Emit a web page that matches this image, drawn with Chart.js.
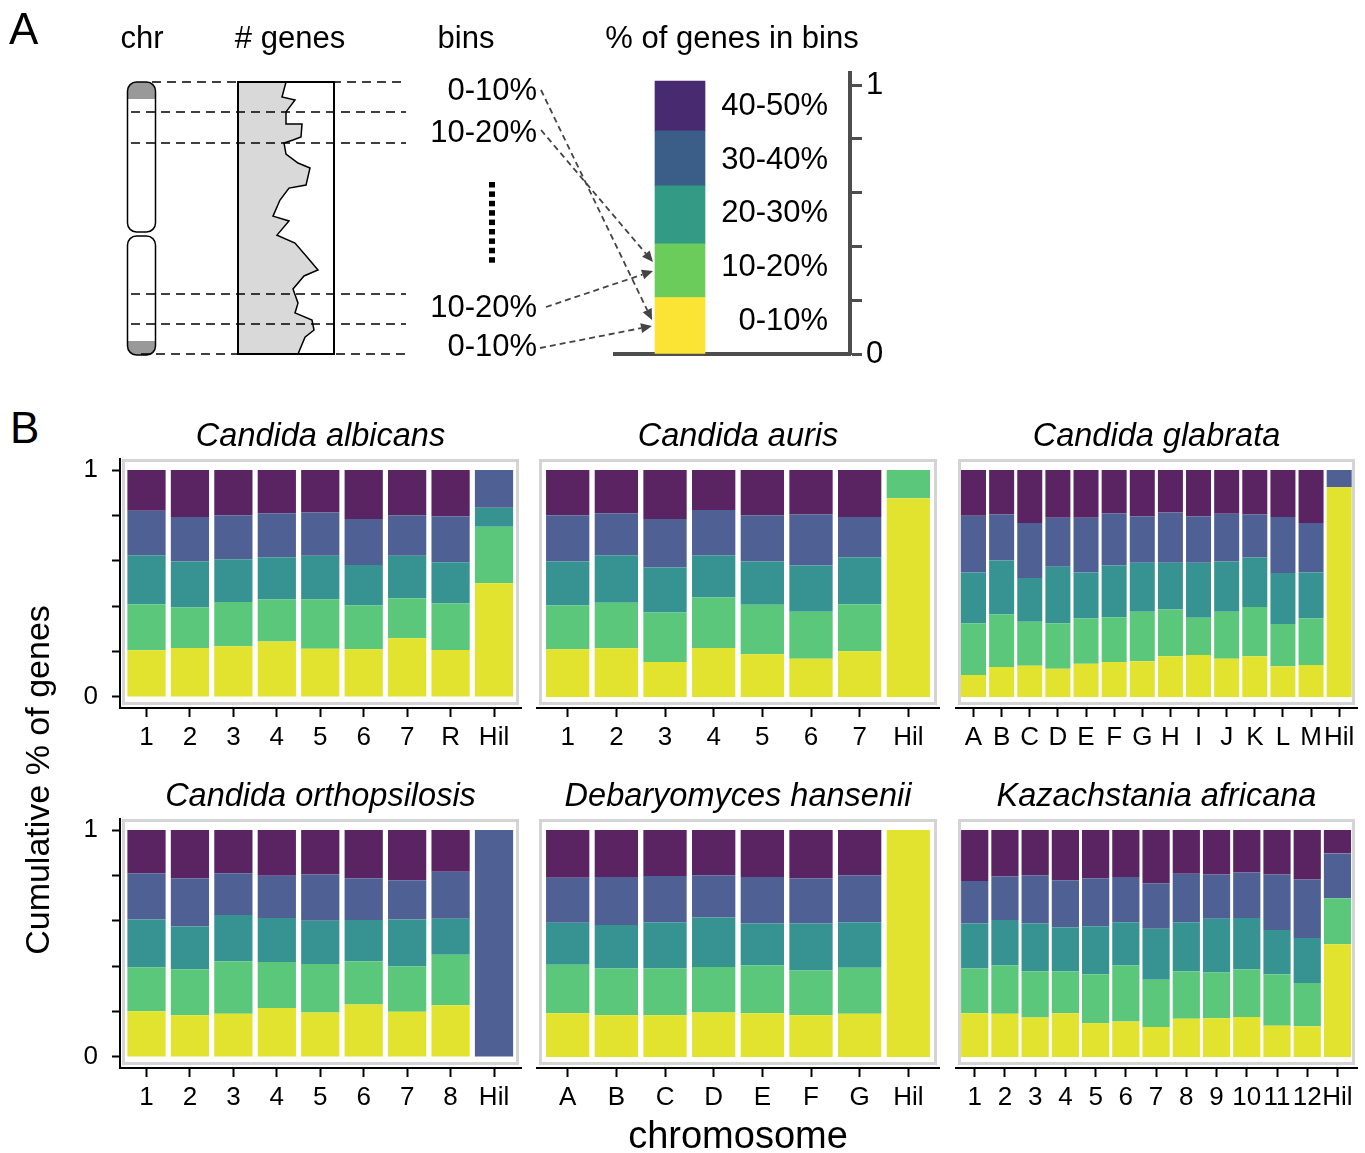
<!DOCTYPE html>
<html>
<head>
<meta charset="utf-8">
<script src="https://cdn.jsdelivr.net/npm/chart.js@4.4.0/dist/chart.umd.min.js"></script>
<style>
body { margin: 0; width: 1365px; height: 1153px; background: #fff; position: relative; overflow: hidden; font-family: "Liberation Sans", Arial, sans-serif; }
canvas { position: absolute; }
.lbl { position: absolute; white-space: nowrap; color: #000; }
</style>
</head>
<body>
<canvas id="profile" width="96" height="272" style="left:238px;top:82px"></canvas>
<canvas id="scheme" width="940" height="390" style="left:0;top:0"></canvas>
<canvas id="p1"></canvas>
<canvas id="p2"></canvas>
<canvas id="p3"></canvas>
<canvas id="p4"></canvas>
<canvas id="p5"></canvas>
<canvas id="p6"></canvas>
<div class="lbl" style="left:9px;top:7px;font-size:44px;line-height:44px">A</div>
<div class="lbl" style="left:10px;top:406px;font-size:44px;line-height:44px">B</div>
<div class="lbl" style="left:-173px;top:763px;width:420px;text-align:center;font-size:34px;line-height:34px;transform:rotate(-90deg)">Cumulative % of genes</div>
<div class="lbl" style="left:538px;top:1116px;width:400px;text-align:center;font-size:38px;line-height:38px">chromosome</div>
<script>
const FONT = '"Liberation Sans", Arial, sans-serif';
Chart.defaults.font.family = FONT;

// bins (bottom to top of each stack)
const binLabels = ['0-10%', '10-20%', '20-30%', '30-40%', '40-50%'];
const colorsB = ['#e2e32e', '#5ac77a', '#379392', '#4f6094', '#5a2362'];
const colorsA = ['#fbe434', '#6bcc5b', '#339a86', '#3a5e88', '#482a70'];
const yTicks = [0, 0.2, 0.4, 0.6, 0.8, 1];

// panel A: example chromosome
const schemeShare = [0.21, 0.2, 0.215, 0.205, 0.185];
const genePos = [0, 0.055, 0.066, 0.11, 0.154, 0.154, 0.202, 0.213, 0.224, 0.265, 0.298, 0.316, 0.379, 0.39,
  0.434, 0.493, 0.511, 0.563, 0.592, 0.643, 0.691, 0.713, 0.761, 0.813, 0.849, 0.875, 0.912, 0.938, 1];
const geneCount = [48, 44, 57, 48, 48, 64, 63, 55, 46, 48, 60, 72, 68, 51,
  42, 35, 51, 39, 57, 69, 80, 66, 55, 60, 57, 74, 76, 67, 60];

const species = ['Candida albicans', 'Candida auris', 'Candida glabrata',
  'Candida orthopsilosis', 'Debaryomyces hansenii', 'Kazachstania africana'];

// share of genes per bin, one row per bin, one column per chromosome
const albicansChr = ['1', '2', '3', '4', '5', '6', '7', 'R', 'Hil'];
const albicansBins = [
  [0.206, 0.216, 0.224, 0.244, 0.213, 0.210, 0.259, 0.207, 0.501],
  [0.203, 0.178, 0.194, 0.185, 0.216, 0.193, 0.176, 0.205, 0.249],
  [0.216, 0.203, 0.189, 0.187, 0.193, 0.179, 0.187, 0.182, 0.084],
  [0.196, 0.196, 0.194, 0.193, 0.191, 0.202, 0.179, 0.202, 0.166],
  [0.179, 0.207, 0.199, 0.191, 0.187, 0.216, 0.199, 0.204, 0]
];
const aurisChr = ['1', '2', '3', '4', '5', '6', '7', 'Hil'];
const aurisBins = [
  [0.210, 0.215, 0.154, 0.216, 0.188, 0.169, 0.201, 0.876],
  [0.193, 0.200, 0.218, 0.222, 0.218, 0.206, 0.208, 0.124],
  [0.194, 0.210, 0.199, 0.187, 0.191, 0.204, 0.207, 0],
  [0.204, 0.185, 0.213, 0.199, 0.204, 0.225, 0.177, 0],
  [0.199, 0.190, 0.216, 0.176, 0.199, 0.196, 0.207, 0]
];
const glabrataChr = ['A', 'B', 'C', 'D', 'E', 'F', 'G', 'H', 'I', 'J', 'K', 'L', 'M', 'Hil'];
const glabrataBins = [
  [0.097, 0.132, 0.138, 0.124, 0.146, 0.154, 0.157, 0.179, 0.185, 0.168, 0.179, 0.135, 0.141, 0.924],
  [0.228, 0.231, 0.193, 0.201, 0.200, 0.197, 0.218, 0.206, 0.164, 0.207, 0.218, 0.187, 0.205, 0],
  [0.224, 0.238, 0.193, 0.249, 0.203, 0.228, 0.216, 0.206, 0.242, 0.222, 0.218, 0.224, 0.203, 0],
  [0.250, 0.203, 0.242, 0.216, 0.241, 0.231, 0.205, 0.222, 0.205, 0.210, 0.189, 0.247, 0.217, 0.076],
  [0.201, 0.196, 0.234, 0.210, 0.210, 0.190, 0.204, 0.187, 0.204, 0.193, 0.196, 0.207, 0.234, 0]
];
const orthoChr = ['1', '2', '3', '4', '5', '6', '7', '8', 'Hil'];
const orthoBins = [
  [0.201, 0.184, 0.190, 0.216, 0.196, 0.231, 0.199, 0.228, 0],
  [0.193, 0.203, 0.232, 0.203, 0.214, 0.191, 0.200, 0.222, 0],
  [0.212, 0.188, 0.204, 0.193, 0.190, 0.181, 0.207, 0.159, 0],
  [0.204, 0.213, 0.184, 0.187, 0.204, 0.185, 0.173, 0.207, 1],
  [0.190, 0.212, 0.190, 0.201, 0.196, 0.212, 0.221, 0.184, 0]
];
const hanseniiChr = ['A', 'B', 'C', 'D', 'E', 'F', 'G', 'Hil'];
const hanseniiBins = [
  [0.193, 0.184, 0.184, 0.196, 0.193, 0.184, 0.190, 1],
  [0.213, 0.206, 0.206, 0.201, 0.211, 0.197, 0.203, 0],
  [0.185, 0.191, 0.204, 0.218, 0.184, 0.207, 0.201, 0],
  [0.199, 0.212, 0.203, 0.186, 0.205, 0.200, 0.207, 0],
  [0.210, 0.207, 0.203, 0.199, 0.207, 0.212, 0.199, 0]
];
const africanaChr = ['1', '2', '3', '4', '5', '6', '7', '8', '9', '10', '11', '12', 'Hil'];
const africanaBins = [
  [0.193, 0.190, 0.174, 0.193, 0.149, 0.156, 0.132, 0.168, 0.171, 0.176, 0.138, 0.135, 0.497],
  [0.197, 0.213, 0.204, 0.185, 0.216, 0.247, 0.208, 0.210, 0.201, 0.211, 0.227, 0.191, 0.202],
  [0.198, 0.201, 0.210, 0.193, 0.211, 0.191, 0.225, 0.216, 0.237, 0.225, 0.194, 0.198, 0],
  [0.187, 0.192, 0.213, 0.208, 0.211, 0.199, 0.200, 0.213, 0.195, 0.201, 0.245, 0.258, 0.198],
  [0.225, 0.204, 0.199, 0.221, 0.213, 0.207, 0.235, 0.193, 0.196, 0.187, 0.196, 0.218, 0.103]
];

// ---- panel A: gene density profile ----
new Chart(document.getElementById('profile'), {
    type: 'line',
    data: {
        datasets: [{
            data: genePos.map((p, i) => ({ x: geneCount[i], y: p })),
            borderColor: '#000',
            borderWidth: 1.5,
            backgroundColor: '#d9d9d9',
            fill: 'origin',
            pointRadius: 0,
            tension: 0
        }]
    },
    options: {
        indexAxis: 'y',
        responsive: false,
        animation: false,
        layout: { padding: 0 },
        plugins: { legend: { display: false }, tooltip: { enabled: false } },
        scales: {
            x: { type: 'linear', min: 0, max: 96, display: false },
            y: { type: 'linear', min: 0, max: 1, reverse: true, display: false }
        }
    }
});

function arrow(ctx, x1, y1, x2, y2) {
    const a = Math.atan2(y2 - y1, x2 - x1);
    const hx = x2 - 11 * Math.cos(a), hy = y2 - 11 * Math.sin(a);
    ctx.setLineDash([6, 4]);
    ctx.beginPath();
    ctx.moveTo(x1, y1);
    ctx.lineTo(hx, hy);
    ctx.stroke();
    ctx.setLineDash([]);
    ctx.beginPath();
    ctx.moveTo(x2, y2);
    ctx.lineTo(hx + 5 * Math.sin(a), hy - 5 * Math.cos(a));
    ctx.lineTo(hx - 5 * Math.sin(a), hy + 5 * Math.cos(a));
    ctx.closePath();
    ctx.fill();
}

const schemePlugin = {
    id: 'scheme',
    afterDraw(chart) {
        const ctx = chart.ctx;
        const y = chart.scales.y;
        ctx.save();
        ctx.fillStyle = '#000';
        ctx.font = '31px ' + FONT;
        ctx.textAlign = 'center';
        ctx.textBaseline = 'alphabetic';
        ctx.fillText('chr', 142, 48);
        ctx.fillText('# genes', 290, 48);
        ctx.fillText('bins', 466, 48);
        ctx.fillText('% of genes in bins', 732, 48);

        // chromosome
        ctx.lineWidth = 1.5;
        ctx.strokeStyle = '#000';
        [[82, 232, 82, 99], [236, 355, 341, 355]].forEach(([t, b, g1, g2]) => {
            ctx.save();
            ctx.beginPath();
            ctx.roundRect(127.5, t, 28, b - t, 9);
            ctx.fillStyle = '#fff';
            ctx.fill();
            ctx.clip();
            ctx.fillStyle = '#999';
            ctx.fillRect(127, g1, 30, g2 - g1);
            ctx.restore();
            ctx.beginPath();
            ctx.roundRect(127.5, t, 28, b - t, 9);
            ctx.stroke();
        });

        // gene box
        ctx.lineWidth = 2;
        ctx.strokeRect(238, 82, 96, 272);

        // bin boundaries
        ctx.lineWidth = 1.5;
        ctx.setLineDash([9, 6]);
        [[82, 152], [112, 131], [143, 131], [294, 131], [324, 131], [354, 141]].forEach(([ly, x0]) => {
            ctx.beginPath();
            ctx.moveTo(x0, ly);
            ctx.lineTo(406, ly);
            ctx.stroke();
        });
        ctx.setLineDash([]);

        // bin labels
        ctx.textAlign = 'right';
        [['0-10%', 100], ['10-20%', 142], ['10-20%', 317], ['0-10%', 356]].forEach(([t, ly]) => ctx.fillText(t, 537, ly));
        for (let i = 0; i < 9; i++) ctx.fillRect(489, 182 + i * 9.4, 6, 5.5);

        // arrows
        ctx.strokeStyle = '#444';
        ctx.fillStyle = '#444';
        ctx.lineWidth = 1.8;
        arrow(ctx, 541, 90, 652, 320);
        arrow(ctx, 541, 130, 653, 262);
        arrow(ctx, 546, 307, 653, 271);
        arrow(ctx, 540, 348, 652, 326);

        // legend labels beside the bar, one per fifth of the axis
        ctx.fillStyle = '#000';
        ctx.textBaseline = 'middle';
        binLabels.forEach((b, k) => {
            ctx.fillText(b, 828, y.getPixelForValue(0.2 * k + 0.125) + 1);
        });
        ctx.restore();
    }
};

new Chart(document.getElementById('scheme'), {
    type: 'bar',
    data: {
        datasets: binLabels.map((b, k) => ({
            label: b,
            data: [{ x: 0, y: schemeShare[k] }],
            backgroundColor: colorsA[k],
            borderWidth: 0,
            barThickness: 50
        }))
    },
    options: {
        responsive: false,
        animation: false,
        layout: { padding: { left: 615, right: 30, top: 73, bottom: 36 } },
        plugins: { legend: { display: false }, tooltip: { enabled: false } },
        scales: {
            x: {
                type: 'linear', stacked: true, offset: false, min: -0.65, max: 1.7,
                afterFit: s => { s.height = 0; },
                ticks: { display: false },
                grid: { display: false, offset: false },
                border: { display: true, color: '#4d4d4d', width: 4 }
            },
            y: {
                position: 'right', stacked: true, min: 0, max: 1.045,
                afterBuildTicks: s => { s.ticks = yTicks.map(v => ({ value: v })); },
                afterFit: s => { s.width = 60; },
                ticks: { color: '#000', padding: 4, font: { size: 31 }, callback: v => (v === 0 ? '0' : v === 1 ? '1' : '') },
                grid: { drawOnChartArea: false, tickLength: 12, tickColor: '#4d4d4d', tickWidth: 3 },
                border: { display: true, color: '#4d4d4d', width: 4 }
            }
        }
    },
    plugins: [schemePlugin]
});

// ---- panel B ----
const framePlugin = {
    id: 'panelFrame',
    beforeDatasetsDraw(chart, args, opts) {
        const a = chart.chartArea, ctx = chart.ctx;
        ctx.save();
        ctx.strokeStyle = '#d4d4d4';
        ctx.lineWidth = 3;
        ctx.strokeRect(a.left + 3.5, a.top + 1.5, a.right - a.left - 7, a.bottom - a.top - 6);
        ctx.font = 'italic 32.5px ' + FONT;
        ctx.fillStyle = '#000';
        ctx.textAlign = 'center';
        ctx.fillText(opts.title, (a.left + a.right) / 2, a.top - 13);
        ctx.restore();
    }
};

const panels = [
    { id: 'p1', title: species[0], chr: albicansChr, bins: albicansBins, left: 120, right: 521, first: 146.5, pitch: 43.44, bar: 0.88, top: 459, yAxis: true },
    { id: 'p2', title: species[1], chr: aurisChr, bins: aurisBins, left: 537, right: 939, first: 567.7, pitch: 48.66, bar: 0.89, top: 459, yAxis: false },
    { id: 'p3', title: species[2], chr: glabrataChr, bins: glabrataBins, left: 956, right: 1357, first: 973.5, pitch: 28.13, bar: 0.889, top: 459, yAxis: false },
    { id: 'p4', title: species[3], chr: orthoChr, bins: orthoBins, left: 120, right: 521, first: 146.5, pitch: 43.44, bar: 0.88, top: 819, yAxis: true },
    { id: 'p5', title: species[4], chr: hanseniiChr, bins: hanseniiBins, left: 537, right: 939, first: 567.7, pitch: 48.66, bar: 0.89, top: 819, yAxis: false },
    { id: 'p6', title: species[5], chr: africanaChr, bins: africanaBins, left: 956, right: 1357, first: 974.7, pitch: 30.23, bar: 0.9, top: 819, yAxis: false }
];

panels.forEach(p => {
    const cv = document.getElementById(p.id);
    cv.width = p.right - p.left + 78;
    cv.height = 349;
    cv.style.left = (p.left - 70) + 'px';
    cv.style.top = (p.top - 50) + 'px';
    new Chart(cv, {
        type: 'bar',
        data: {
            datasets: binLabels.map((b, k) => ({
                label: b,
                data: p.bins[k].map((v, i) => ({ x: i, y: v })),
                backgroundColor: colorsB[k],
                borderWidth: 0,
                barPercentage: p.bar,
                categoryPercentage: 1
            }))
        },
        options: {
            responsive: false,
            animation: false,
            layout: { padding: { left: 0, right: 8, top: 50, bottom: 0 } },
            plugins: {
                legend: { display: false },
                tooltip: { enabled: false },
                panelFrame: { title: p.title }
            },
            scales: {
                x: {
                    type: 'linear', stacked: true, offset: false,
                    min: (p.left - p.first) / p.pitch,
                    max: (p.right - p.first) / p.pitch,
                    afterBuildTicks: s => { s.ticks = p.chr.map((c, i) => ({ value: i })); },
                    afterFit: s => { s.height = 50; },
                    ticks: { autoSkip: false, maxRotation: 0, minRotation: 0, padding: 5, color: '#000', font: { size: 26 }, callback: v => p.chr[v] },
                    grid: { display: true, offset: false, drawOnChartArea: false, tickLength: 9, tickColor: '#000', tickWidth: 2 },
                    border: { display: true, color: '#000', width: 2 }
                },
                y: {
                    stacked: true, min: -0.0485, max: 1.0485,
                    afterBuildTicks: s => { s.ticks = yTicks.map(v => ({ value: v })); },
                    afterFit: s => { s.width = 70; },
                    ticks: { display: p.yAxis, color: '#000', padding: 14, font: { size: 26 }, callback: v => (v === 0 ? '0' : v === 1 ? '1' : '') },
                    grid: { display: p.yAxis, drawOnChartArea: false, tickLength: 8, tickColor: '#000', tickWidth: 2 },
                    border: { display: p.yAxis, color: '#000', width: 2 }
                }
            }
        },
        plugins: [framePlugin]
    });
});
</script>
</body>
</html>
